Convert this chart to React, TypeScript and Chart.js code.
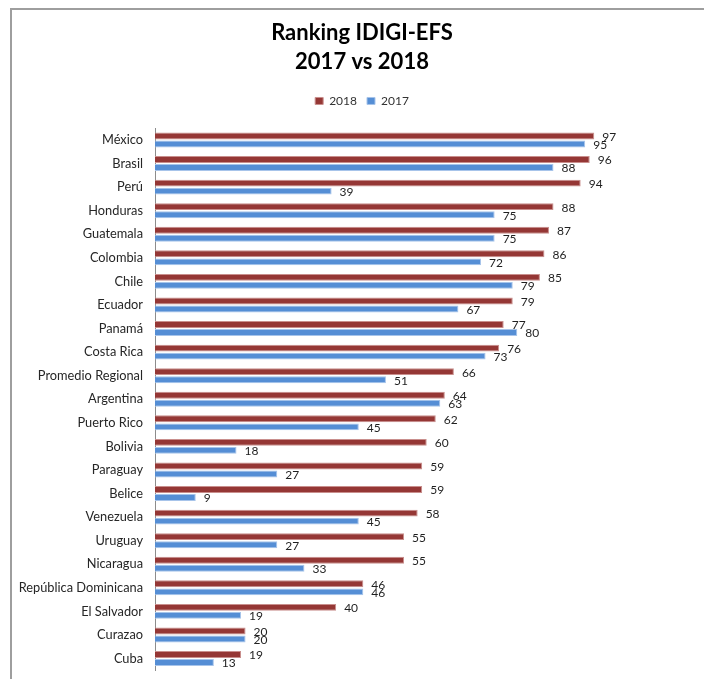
import React, { useEffect, useRef } from "react";
import { Chart, registerables } from "chart.js";

Chart.register(...registerables);

const categories = [
  "México", "Brasil", "Perú", "Honduras", "Guatemala", "Colombia", "Chile", "Ecuador",
  "Panamá", "Costa Rica", "Promedio Regional", "Argentina", "Puerto Rico", "Bolivia",
  "Paraguay", "Belice", "Venezuela", "Uruguay", "Nicaragua", "República Dominicana",
  "El Salvador", "Curazao", "Cuba",
];
const values2018 = [97, 96, 94, 88, 87, 86, 85, 79, 77, 76, 66, 64, 62, 60, 59, 59, 58, 55, 55, 46, 40, 20, 19];
const values2017 = [95, 88, 39, 75, 75, 72, 79, 67, 80, 73, 51, 63, 45, 18, 27, 9, 45, 27, 33, 46, 19, 20, 13];
const seriesNames = ["2018", "2017"];
const titleLines = ["Ranking IDIGI-EFS", "2017 vs 2018"];
const axisMax = 123;

const FONT = "Lato, 'Open Sans', sans-serif";

const valueLabels = {
  id: "valueLabels",
  afterDatasetsDraw(chart: any) {
    const ctx = chart.ctx;
    ctx.save();
    ctx.font = `12px ${FONT}`;
    ctx.fillStyle = "#1f1f1f";
    ctx.textAlign = "left";
    ctx.textBaseline = "middle";
    chart.data.datasets.forEach((ds: any, di: number) => {
      const meta = chart.getDatasetMeta(di);
      meta.data.forEach((bar: any, i: number) => {
        ctx.fillText(String(ds.data[i]), bar.x + 8, bar.y + 1);
      });
    });
    ctx.restore();
  },
};

export default function App() {
  const ref = useRef<HTMLCanvasElement | null>(null);
  useEffect(() => {
    if (!ref.current) return;
    const chart = new Chart(ref.current, {
      type: "bar",
      data: {
        labels: categories,
        datasets: [
          {
            label: seriesNames[0],
            data: values2018,
            backgroundColor: "#953735",
            borderColor: "#c98f8d",
            borderWidth: 1,
            categoryPercentage: 0.68,
            barPercentage: 0.86,
          },
          {
            label: seriesNames[1],
            data: values2017,
            backgroundColor: "#558ED5",
            borderColor: "#a7c4ea",
            borderWidth: 1,
            categoryPercentage: 0.68,
            barPercentage: 0.86,
          },
        ],
      },
      options: {
        indexAxis: "y",
        responsive: false,
        animation: false,
        layout: { padding: { left: 0, right: 0, top: 0, bottom: 18 } },
        plugins: {
          title: {
            display: true,
            text: titleLines,
            color: "#000",
            font: { family: FONT, size: 22, weight: "bold", lineHeight: 1.336 },
            padding: { top: 8.3, bottom: 7.9 },
          },
          legend: {
            display: true,
            position: "top",
            labels: {
              boxWidth: 8,
              boxHeight: 7,
              padding: 10,
              color: "#333",
              font: { family: FONT, size: 12 },
            },
          },
          tooltip: { enabled: false },
        },
        scales: {
          x: {
            position: "top",
            min: 0,
            max: axisMax,
            grid: { display: false },
            border: { display: false },
            ticks: { display: false },
            afterFit: (s: any) => {
              s.height = 11.2;
            },
          },
          y: {
            grid: { display: false, drawTicks: false },
            border: { display: true, color: "#8c8c8c", width: 1 },
            ticks: {
              padding: 12,
              color: "#262626",
              font: { family: FONT, size: 12.8 },
              autoSkip: false,
            },
            afterFit: (s: any) => {
              s.width = 143;
            },
          },
        },
      },
      plugins: [valueLabels],
    } as any);
    return () => chart.destroy();
  }, []);

  return (
    <div
      style={{
        position: "fixed",
        left: 0,
        top: 0,
        width: 704,
        height: 679,
        overflow: "hidden",
        background: "#fff",
      }}
    >
      <div
        style={{
          position: "absolute",
          left: 10,
          top: 8,
          width: 720,
          height: 700,
          borderLeft: "2px solid #9e9e9e",
          borderTop: "2px solid #9e9e9e",
          boxSizing: "border-box",
        }}
      />
      <canvas
        ref={ref}
        width={700}
        height={680}
        style={{ position: "absolute", left: 12, top: 10, display: "block" }}
      />
    </div>
  );
}
